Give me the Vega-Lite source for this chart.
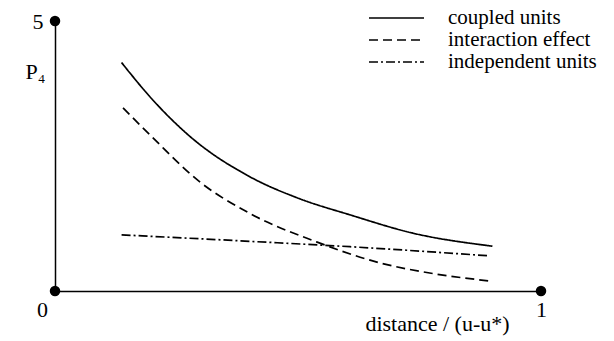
{
  "$schema": "https://vega.github.io/schema/vega-lite/v6.json",
  "autosize": "none",
  "width": 486,
  "height": 270,
  "padding": {"left": 55, "top": 21, "right": 73, "bottom": 50},
  "background": "white",
  "config": {
    "view": {"stroke": null},
    "font": "Liberation Serif",
    "axis": {"domainColor": "black", "domainWidth": 1.5, "ticks": false, "grid": false, "labelColor": "black", "titleColor": "black", "labelFont": "Liberation Serif", "titleFont": "Liberation Serif", "labelFontSize": 22, "titleFontSize": 22, "titleFontWeight": "normal"}
  },
  "datasets": {
    "curves": [
      {"series": "coupled units", "x": 0.137, "y": 4.23},
      {"series": "coupled units", "x": 0.2, "y": 3.55},
      {"series": "coupled units", "x": 0.278, "y": 2.86},
      {"series": "coupled units", "x": 0.4, "y": 2.12},
      {"series": "coupled units", "x": 0.5, "y": 1.72},
      {"series": "coupled units", "x": 0.607, "y": 1.41},
      {"series": "coupled units", "x": 0.737, "y": 1.07},
      {"series": "coupled units", "x": 0.9, "y": 0.83},
      {"series": "interaction effect", "x": 0.14, "y": 3.39},
      {"series": "interaction effect", "x": 0.2, "y": 2.85},
      {"series": "interaction effect", "x": 0.298, "y": 2.02},
      {"series": "interaction effect", "x": 0.4, "y": 1.44},
      {"series": "interaction effect", "x": 0.538, "y": 0.91},
      {"series": "interaction effect", "x": 0.669, "y": 0.52},
      {"series": "interaction effect", "x": 0.78, "y": 0.32},
      {"series": "interaction effect", "x": 0.895, "y": 0.185},
      {"series": "independent units", "x": 0.137, "y": 1.04},
      {"series": "independent units", "x": 0.4, "y": 0.92},
      {"series": "independent units", "x": 0.607, "y": 0.82},
      {"series": "independent units", "x": 0.895, "y": 0.65}
    ],
    "dots": [
      {"x": 0, "y": 0},
      {"x": 0, "y": 5},
      {"x": 1, "y": 0}
    ]
  },
  "layer": [
    {
      "data": {"name": "curves"},
      "mark": {"type": "line", "interpolate": "monotone", "color": "black", "strokeWidth": 1.7},
      "encoding": {
        "x": {"field": "x", "type": "quantitative", "scale": {"domain": [0, 1], "nice": false},
          "axis": {"values": [0, 1], "format": "d", "labelPadding": 8, "labelAlign": "center",
            "labelOffset": {"condition": {"test": "datum.value == 0", "value": -13}, "value": 0},
            "title": "distance / (u-u*)", "titleX": 382, "titleY": 39, "titleAlign": "center", "titleBaseline": "alphabetic"}},
        "y": {"field": "y", "type": "quantitative", "scale": {"domain": [0, 5], "nice": false},
          "axis": {"values": [5], "format": "d", "labelPadding": 12, "title": "P₄", "titleAngle": 0, "titleX": -20, "titleY": 50, "titleAlign": "center", "titleBaseline": "middle"}},
        "strokeDash": {"field": "series", "type": "nominal",
          "scale": {"domain": ["coupled units", "interaction effect", "independent units"], "range": [[1, 0], [9, 5], [9, 3, 2, 3]]},
          "legend": {"title": null, "orient": "none", "legendX": 313, "legendY": -14, "symbolType": "stroke", "symbolSize": 3025, "symbolStrokeColor": "black", "symbolStrokeWidth": 1.3, "clipHeight": 22, "rowPadding": 0, "labelFont": "Liberation Serif", "labelFontSize": 21, "labelColor": "black", "labelOffset": 23, "labelLimit": 300}
        }
      }
    },
    {
      "data": {"name": "dots"},
      "mark": {"type": "point", "filled": true, "color": "black", "size": 110, "opacity": 1},
      "encoding": {
        "x": {"field": "x", "type": "quantitative"},
        "y": {"field": "y", "type": "quantitative"}
      }
    }
  ]
}
